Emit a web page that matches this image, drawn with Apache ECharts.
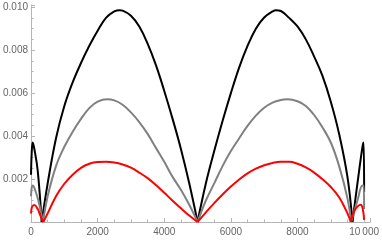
<!DOCTYPE html>
<html>
<head>
<meta charset="utf-8">
<script src="https://cdn.jsdelivr.net/npm/echarts@6/dist/echarts.min.js"></script>
<style>html,body{margin:0;padding:0;background:#fff}#c{width:382px;height:241px}</style>
</head>
<body>
<div id="c"></div>
<script>
var xTicks = [0, 2000, 4000, 6000, 8000, 10000];
var yTicks = [0.002, 0.004, 0.006, 0.008, 0.010];

var blackX = [0, 20, 50, 100, 200, 320, 500, 750, 1000, 1250, 1500, 1750, 2000, 2250, 2500, 2660, 2750, 3000, 3250, 3500, 3750, 4000, 4250, 4500, 4750, 5000,
  5250, 5500, 5750, 6000, 6250, 6500, 6750, 7000, 7250, 7350, 7500, 7750, 8000, 8250, 8500, 8750, 9000, 9250, 9500, 9650, 9800, 9950, 9985, 10000];
var blackY = [0.0022, 0.0032, 0.0037, 0.0034, 0.0024, 0, 0.0018, 0.0039, 0.0054, 0.0065, 0.0074, 0.0082, 0.0089, 0.0095, 0.0098, 0.00986, 0.00984, 0.0096, 0.0091, 0.0083, 0.0073, 0.0061, 0.0048, 0.0034, 0.0018, 0,
  0.0018, 0.0033, 0.0047, 0.0060, 0.0072, 0.0082, 0.0090, 0.00952, 0.0098, 0.00986, 0.00982, 0.0095, 0.0091, 0.0085, 0.0077, 0.0068, 0.0056, 0.0041, 0.0021, 0, 0.0018, 0.0035, 0.0037, 0.0014];

var grayX = [0, 20, 50, 120, 220, 360, 500, 750, 1000, 1250, 1500, 1750, 2000, 2290, 2500, 2750, 3000, 3250, 3500, 3750, 4000, 4250, 4500, 4750, 5000,
  5250, 5500, 5750, 6000, 6250, 6500, 6750, 7000, 7250, 7500, 7700, 8000, 8250, 8500, 8750, 9000, 9250, 9500, 9610, 9800, 9950, 9985, 10000];
var grayY = [0.0012, 0.0016, 0.0017, 0.0015, 0.0010, 0, 0.0012, 0.0026, 0.0035, 0.0042, 0.0048, 0.0053, 0.0056, 0.00571, 0.00566, 0.00546, 0.0051, 0.00465, 0.0041, 0.00345, 0.0028, 0.0021, 0.0015, 0.0008, 0,
  0.0010, 0.0018, 0.0026, 0.0033, 0.0039, 0.00447, 0.00495, 0.00532, 0.00556, 0.00568, 0.00571, 0.00562, 0.0054, 0.00498, 0.0044, 0.0037, 0.0026, 0.0011, 0, 0.0010, 0.0017, 0.0017, 0.0006];

var redX = [0, 30, 100, 200, 280, 370, 500, 750, 1000, 1250, 1500, 1750, 2000, 2250, 2500, 2750, 3000, 3250, 3500, 3750, 4000, 4250, 4500, 4750, 5000,
  5250, 5500, 5750, 6000, 6250, 6500, 6750, 7000, 7250, 7500, 7750, 8000, 8250, 8500, 8750, 9000, 9250, 9500, 9600, 9700, 9900, 9960, 10000];
var redY = [0.0004, 0.0007, 0.00079, 0.0006, 0.0003, 0, 0.0004, 0.0012, 0.00178, 0.0022, 0.00252, 0.00271, 0.00279, 0.0028, 0.00277, 0.00268, 0.00253, 0.0023, 0.00204, 0.00172, 0.00136, 0.00099, 0.00064, 0.0003, 0,
  0.00045, 0.00088, 0.00128, 0.00165, 0.00198, 0.00226, 0.00248, 0.00264, 0.00275, 0.0028, 0.0028, 0.00271, 0.00254, 0.0023, 0.00199, 0.00163, 0.00115, 0.0004, 0, 0.0005, 0.0008, 0.0006, 0.0001];

var curves = [
  {x: blackX, y: blackY, color: '#000000'},
  {x: grayX, y: grayY, color: '#808080'},
  {x: redX, y: redY, color: '#ff0000'}
];

function mk(data, color) {
  return {
    type: 'line', data: data, smooth: 0.4, showSymbol: false, silent: true,
    lineStyle: {color: color, width: 2}, clip: false
  };
}
// split each curve at its interior zeros so cusps stay sharp
var series = [];
curves.forEach(function (c) {
  var seg = [];
  for (var i = 0; i < c.x.length; i++) {
    seg.push([c.x[i], c.y[i]]);
    if (c.y[i] === 0 && i > 0 && i < c.x.length - 1) {
      series.push(mk(seg, c.color));
      seg = [[c.x[i], c.y[i]]];
    }
  }
  series.push(mk(seg, c.color));
});

var axisColor = '#b5b5b5';
var labelColor = '#666666';
var chart = echarts.init(document.getElementById('c'), null, {renderer: 'canvas'});
chart.setOption({
  animation: false,
  grid: {left: 30, right: 11, top: 5, bottom: 19, containLabel: false},
  xAxis: {
    type: 'value', min: 0, max: 10180, interval: 2000,
    axisLine: {show: true, lineStyle: {color: axisColor, width: 1}},
    axisTick: {show: true, inside: true, length: 4, lineStyle: {color: axisColor}},
    minorTick: {show: true, splitNumber: 4, length: 2.5, lineStyle: {color: axisColor}},
    splitLine: {show: false},
    axisLabel: {
      color: labelColor, fontSize: 10, fontFamily: 'Liberation Sans', margin: 5,
      showMaxLabel: false,
      formatter: function (v) {
        if (xTicks.indexOf(v) < 0) return '';
        return v >= 10000 ? String(v).replace(/(\d{2})(\d{3})$/, '$1\u2009$2') : String(v);
      }
    }
  },
  yAxis: {
    type: 'value', min: 0, max: 0.0101, interval: 0.002,
    axisLine: {show: true, lineStyle: {color: axisColor, width: 1}},
    axisTick: {show: true, inside: true, length: 4, lineStyle: {color: axisColor}},
    minorTick: {show: true, splitNumber: 4, length: 2.5, lineStyle: {color: axisColor}},
    splitLine: {show: false},
    axisLabel: {
      color: labelColor, fontSize: 10, fontFamily: 'Liberation Sans', margin: 3,
      showMaxLabel: false,
      formatter: function (v) {
        for (var i = 0; i < yTicks.length; i++) {
          if (Math.abs(yTicks[i] - v) < 1e-9) return yTicks[i].toFixed(3);
        }
        return '';
      }
    }
  },
  series: series
});
</script>
</body>
</html>
